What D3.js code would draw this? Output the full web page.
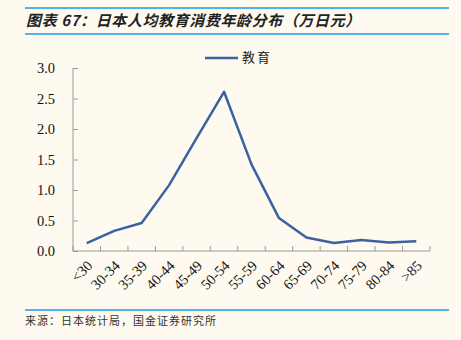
<!DOCTYPE html>
<html>
<head>
<meta charset="utf-8">
<script src="https://cdn.jsdelivr.net/npm/d3@7"></script>
<style>
  html, body { margin: 0; padding: 0; background: #FEFAF0; }
  svg { display: block; }
</style>
</head>
<body>
<svg id="chart" width="461" height="340"></svg>
<script>
// Age groups and per-person education spending (10k JPY)
const ageGroups = ["<30", "30-34", "35-39", "40-44", "45-49", "50-54", "55-59", "60-64", "65-69", "70-74", "75-79", "80-84", ">85"];
const eduSpend = [0.13, 0.33, 0.46, 1.08, 1.85, 2.61, 1.42, 0.54, 0.22, 0.13, 0.18, 0.14, 0.16];
const yTicks = [0, 0.5, 1.0, 1.5, 2.0, 2.5, 3.0];

const titleText = "图表 67：日本人均教育消费年龄分布（万日元）";
const seriesName = "教育";
const sourceText = "来源：日本统计局，国金证券研究所";

const svg = d3.select("#chart");
const W = 461, H = 340;
const rule = "#1C9BDF";
const lineColor = "#3B62A0";
const axisColor = "#9A9A9A";
const cjk = "'Noto Sans CJK SC', 'Noto Sans', sans-serif";
const serif = "'Liberation Serif', 'Times New Roman', serif";

svg.append("rect").attr("width", W).attr("height", H).attr("fill", "#FEFAF0");

// header and footer rules
[8, 34, 310].forEach(y => {
  svg.append("line").attr("x1", 25).attr("x2", 449).attr("y1", y).attr("y2", y)
    .attr("stroke", rule).attr("stroke-width", 1.5);
});

svg.append("text").attr("x", 26).attr("y", 26)
  .attr("font-family", cjk).attr("font-size", 15).attr("font-weight", "bold")
  .attr("font-style", "italic").attr("letter-spacing", 0.6).attr("fill", "#222")
  .text(titleText);

svg.append("text").attr("x", 25).attr("y", 325)
  .attr("font-family", cjk).attr("font-size", 11).attr("letter-spacing", 1).attr("fill", "#333")
  .text(sourceText);

// plot area
const m = { left: 73, right: 430, top: 68, bottom: 251 };
const x = d3.scaleBand().domain(ageGroups).range([m.left, m.right]);
const y = d3.scaleLinear().domain([0, 3]).range([m.bottom, m.top]);

// y axis with ticks pointing inward
const yAxis = svg.append("g").attr("transform", `translate(${m.left},0)`)
  .call(d3.axisLeft(y).tickValues(yTicks).tickFormat(d3.format(".1f")).tickSize(-5).tickPadding(18));
yAxis.select(".domain").attr("stroke", axisColor).attr("d", `M0,${m.top}V${m.bottom}`);
yAxis.selectAll(".tick line").attr("stroke", axisColor);
yAxis.selectAll(".tick text").attr("font-family", serif).attr("font-size", 14.5).attr("fill", "#111");

// x axis: ticks at category boundaries, pointing inward
const xAxis = svg.append("g").attr("transform", `translate(0,${m.bottom})`);
xAxis.append("line").attr("x1", m.left).attr("x2", m.right).attr("y1", 0).attr("y2", 0)
  .attr("stroke", axisColor);
const bounds = ageGroups.map(d => x(d) + x.bandwidth()).concat([m.left]);
xAxis.selectAll("line.tk").data(bounds).join("line").attr("class", "tk")
  .attr("x1", d => d).attr("x2", d => d).attr("y1", 0).attr("y2", -5)
  .attr("stroke", axisColor);
xAxis.selectAll("text").data(ageGroups).join("text")
  .attr("transform", d => `translate(${x(d) + x.bandwidth() / 2 + 3},${12}) rotate(-45)`)
  .attr("text-anchor", "end").attr("dy", "0.35em")
  .attr("font-family", serif).attr("font-size", 14.5).attr("fill", "#111")
  .text(d => d);

// series line
const line = d3.line()
  .x((d, i) => x(ageGroups[i]) + x.bandwidth() / 2)
  .y(d => y(d));
svg.append("path").datum(eduSpend).attr("d", line)
  .attr("fill", "none").attr("stroke", lineColor).attr("stroke-width", 2.5)
  .attr("stroke-linejoin", "round");

// legend
svg.append("line").attr("x1", 205).attr("x2", 238).attr("y1", 58).attr("y2", 58)
  .attr("stroke", lineColor).attr("stroke-width", 2.5);
svg.append("text").attr("x", 242).attr("y", 62)
  .attr("font-family", cjk).attr("font-size", 13).attr("letter-spacing", 2).attr("fill", "#222")
  .text(seriesName);
</script>
</body>
</html>
